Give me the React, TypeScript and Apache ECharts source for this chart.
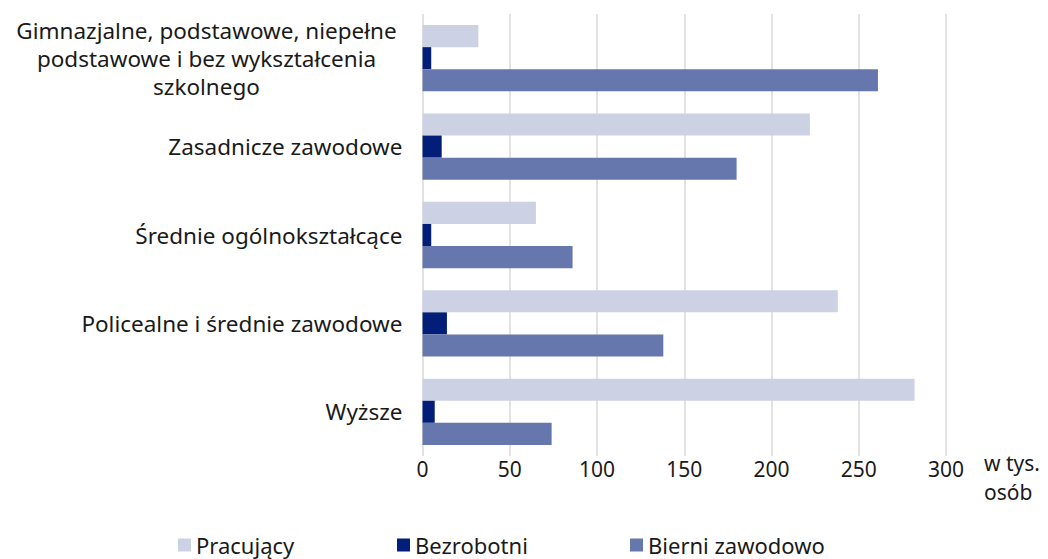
import React, { useEffect, useRef } from "react";
import * as echarts from "echarts";

const categories = [
  "Gimnazjalne, podstawowe, niepełne\npodstawowe i bez wykształcenia\nszkolnego",
  "Zasadnicze zawodowe",
  "Średnie ogólnokształcące",
  "Policealne i średnie zawodowe",
  "Wyższe",
];
const seriesNames = ["Pracujący", "Bezrobotni", "Bierni zawodowo"];
const pracujacy = [32, 222, 65, 238, 282];
const bezrobotni = [5, 11, 5, 14, 7];
const bierni = [261, 180, 86, 138, 74];
const xTicks = { min: 0, max: 300, interval: 50 };
const unitLabel = "w tys.\nosób";

const colors = ["#CCD2E4", "#021E78", "#6677AD"];
const FONT = "'Noto Sans', sans-serif";

export default function App() {
  const ref = useRef<HTMLDivElement>(null);
  useEffect(() => {
    if (!ref.current) return;
    const chart = echarts.init(ref.current, undefined, { renderer: "svg" });
    const values = [pracujacy, bezrobotni, bierni];
    const legendLefts = [178, 397, 630];
    chart.setOption({
      animation: false,
      textStyle: { fontFamily: FONT },
      grid: { left: 422.5, right: 102, top: 14, bottom: 103, containLabel: false },
      xAxis: {
        type: "value",
        min: xTicks.min,
        max: xTicks.max,
        interval: xTicks.interval,
        axisLine: { show: false },
        axisTick: { show: false },
        splitLine: { lineStyle: { color: "#d9d9d9", width: 1.5 } },
        axisLabel: { fontSize: 21, color: "#1a1a1a", margin: 2, fontFamily: FONT },
      },
      yAxis: {
        type: "category",
        inverse: true,
        data: categories,
        axisLine: { show: false },
        axisTick: { show: false },
        axisLabel: {
          fontSize: 22.5,
          color: "#1a1a1a",
          margin: 20,
          lineHeight: 28,
          fontFamily: FONT,
          formatter: (v: string) =>
            v.indexOf("\n") >= 0
              ? v.split("\n").map((l) => `{c|${l}}`).join("\n")
              : v,
          rich: {
            c: { width: 392, align: "center", fontSize: 22.5, lineHeight: 28, color: "#1a1a1a", fontFamily: FONT },
          },
        },
      },
      legend: seriesNames.map((n, i) => ({
        data: [n],
        left: legendLefts[i],
        top: 532,
        padding: 0,
        itemWidth: 13,
        itemHeight: 13,
        itemGap: 0,
        icon: "rect",
        textStyle: { fontSize: 22, color: "#1a1a1a", fontFamily: FONT, lineHeight: 26 },
      })),
      graphic: [
        {
          type: "text",
          right: 8,
          top: 448,
          style: {
            text: unitLabel,
            fontSize: 21,
            lineHeight: 29,
            fill: "#1a1a1a",
            align: "right",
            fontFamily: FONT,
          },
        },
      ],
      series: seriesNames.map((n, i) => ({
        name: n,
        type: "bar",
        data: values[i],
        barGap: "0%",
        barCategoryGap: "25%",
        itemStyle: { color: colors[i] },
      })),
    });
    return () => chart.dispose();
  }, []);
  return <div ref={ref} style={{ width: 1048, height: 559, position: "absolute", left: 0, top: 0 }} />;
}
